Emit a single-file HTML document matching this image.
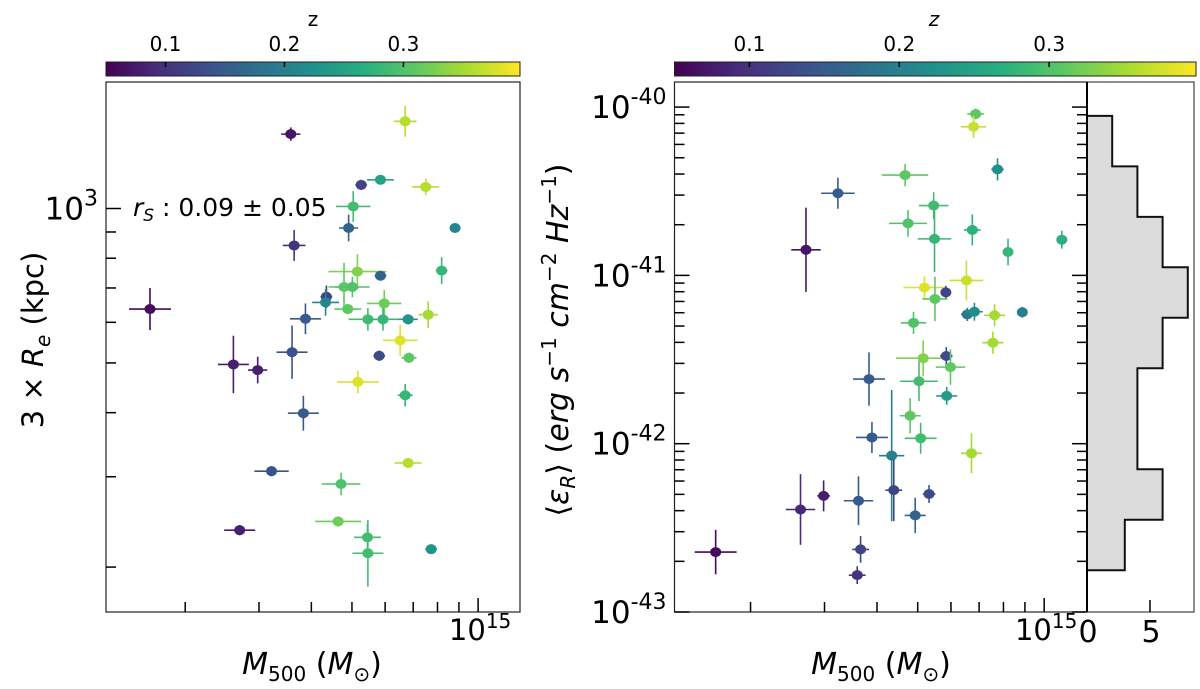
<!DOCTYPE html>
<html><head><meta charset="utf-8"><style>
html,body{margin:0;padding:0;background:#fff;}
svg{display:block;font-family:"DejaVu Sans","Liberation Sans",sans-serif;}
</style></head><body>
<svg id="fig" width="1200" height="689" viewBox="0 0 1200 689" xmlns="http://www.w3.org/2000/svg">
<defs>
<linearGradient id="vir" x1="0" x2="1" y1="0" y2="0">
<stop offset="0" stop-color="#440154"/><stop offset="0.125" stop-color="#472d7b"/><stop offset="0.25" stop-color="#3b528b"/><stop offset="0.375" stop-color="#2c728e"/><stop offset="0.5" stop-color="#21918c"/><stop offset="0.625" stop-color="#28ae80"/><stop offset="0.75" stop-color="#5ec962"/><stop offset="0.875" stop-color="#addc30"/><stop offset="1" stop-color="#fde725"/>
</linearGradient>
</defs>
<g id="left"></g>
<g id="right"></g>
</svg>
<script>
// ---- shared colour scale
const zMin = 0.05, zMax = 0.398;
const cbTicks = [0.1, 0.2, 0.3];
const cbTickLabels = ["0.1", "0.2", "0.3"];

// ---- left panel data (log10 M500, log10 3Re [kpc], errors in dex, redshift)
const leftLogM = [14.553,14.826,14.721,14.767,14.875,14.702,14.691,14.945,14.561,14.913,14.712,14.767,14.680,14.700,14.638,14.636,14.217,14.689,14.776,14.588,14.737,14.773,14.833,14.881,14.814,14.556,14.764,14.835,14.416,14.474,14.713,14.826,14.583,14.833,14.507,14.673,14.666,14.431,14.736,14.888,14.737];
const leftLogR = [3.145,3.170,3.046,3.056,3.042,3.004,2.962,2.962,2.928,2.879,2.877,2.869,2.847,2.847,2.828,2.817,2.804,2.804,2.815,2.785,2.784,2.784,2.784,2.793,2.743,2.720,2.713,2.709,2.696,2.685,2.662,2.636,2.601,2.504,2.488,2.463,2.390,2.373,2.359,2.336,2.328];
const leftZ = [0.07,0.36,0.12,0.25,0.36,0.29,0.16,0.21,0.10,0.28,0.33,0.16,0.31,0.30,0.12,0.21,0.06,0.31,0.32,0.15,0.29,0.28,0.23,0.35,0.38,0.14,0.13,0.31,0.08,0.08,0.38,0.28,0.15,0.36,0.14,0.30,0.32,0.08,0.29,0.23,0.29];
const leftErrM = [0.023,0.027,0.014,0.032,0.032,0.041,0.023,0.010,0.027,0.014,0.069,0.014,0.037,0.041,0.014,0.032,0.050,0.032,0.041,0.037,0.046,0.037,0.023,0.023,0.041,0.037,0.014,0.018,0.037,0.023,0.050,0.018,0.037,0.032,0.041,0.046,0.055,0.037,0.032,0.014,0.037];
const leftErrR = [0.013,0.030,0.010,0.006,0.016,0.030,0.026,0.006,0.030,0.026,0.034,0.006,0.047,0.020,0.022,0.026,0.041,0.010,0.026,0.030,0.022,0.022,0.010,0.026,0.030,0.052,0.010,0.010,0.056,0.026,0.022,0.022,0.034,0.010,0.010,0.022,0.010,0.010,0.026,0.009,0.065];

// ---- right panel data (log10 M500, log10 <eps_R>, errors in dex, redshift)
const rightLogM = [14.837,14.832,14.889,14.669,14.509,14.737,14.676,14.829,14.739,15.042,14.914,14.433,14.815,14.715,14.766,14.740,14.817,14.834,14.948,14.882,14.689,14.878,14.712,14.767,14.777,14.702,14.583,14.768,14.681,14.706,14.590,14.827,14.637,14.642,14.726,14.475,14.420,14.558,14.693,14.563,14.218,14.555];
const rightLogE = [-40.041,-40.117,-40.370,-40.404,-40.512,-40.585,-40.691,-40.730,-40.783,-40.788,-40.861,-40.848,-41.030,-41.072,-41.101,-41.140,-41.232,-41.216,-41.219,-41.237,-41.282,-41.400,-41.492,-41.479,-41.545,-41.629,-41.616,-41.716,-41.834,-41.968,-41.963,-42.057,-42.071,-42.276,-42.299,-42.310,-42.391,-42.339,-42.426,-42.628,-42.644,-42.781];
const rightZ = [0.31,0.37,0.22,0.31,0.15,0.29,0.30,0.27,0.28,0.27,0.28,0.07,0.37,0.38,0.12,0.31,0.19,0.22,0.20,0.35,0.30,0.35,0.33,0.13,0.31,0.29,0.15,0.24,0.31,0.29,0.15,0.35,0.20,0.12,0.13,0.08,0.09,0.15,0.16,0.12,0.06,0.10];
const rightErrM = [0.020,0.030,0.015,0.055,0.040,0.035,0.045,0.020,0.040,0.012,0.012,0.035,0.040,0.050,0.012,0.030,0.015,0.020,0.012,0.025,0.030,0.025,0.065,0.015,0.035,0.045,0.038,0.025,0.025,0.038,0.038,0.025,0.030,0.020,0.015,0.015,0.035,0.035,0.025,0.020,0.050,0.020];
const rightErrE = [0.032,0.066,0.066,0.066,0.092,0.079,0.079,0.092,0.197,0.053,0.079,0.250,0.118,0.066,0.039,0.132,0.039,0.053,0.032,0.066,0.066,0.066,0.105,0.053,0.105,0.118,0.158,0.053,0.105,0.092,0.092,0.118,0.390,0.184,0.053,0.092,0.210,0.145,0.105,0.079,0.132,0.053];

// ---- histogram of log eps_R
const histEdgeTop = -40.052;
const histBinWidth = 0.3;
const histCounts = [2,4,6,8,6,4,4,6,3];

const NS = "http://www.w3.org/2000/svg";
function mk(parent, tag, attrs, text){
  const e = document.createElementNS(NS, tag);
  for (const k in attrs) e.setAttribute(k, attrs[k]);
  if (text !== undefined) e.textContent = text;
  parent.appendChild(e);
  return e;
}
const stops = [[0,68,1,84],[0.125,71,45,123],[0.25,59,82,139],[0.375,44,114,142],[0.5,33,145,140],[0.625,40,174,128],[0.75,94,201,98],[0.875,173,220,48],[1,253,231,37]];
function viridis(z){
  let t = Math.max(0, Math.min(1, (z - zMin) / (zMax - zMin)));
  for (let i = 1; i < stops.length; i++){
    if (t <= stops[i][0]){
      const a = stops[i-1], b = stops[i], f = (t - a[0]) / (b[0] - a[0]);
      return `rgb(${Math.round(a[1]+f*(b[1]-a[1]))},${Math.round(a[2]+f*(b[2]-a[2]))},${Math.round(a[3]+f*(b[3]-a[3]))})`;
    }
  }
  return "#fde725";
}

function panel(g, o){
  const {x0, x1, y0, y1, xmin, xmax, ymin, ymax} = o;
  const sx = v => x0 + (v - xmin) / (xmax - xmin) * (x1 - x0);
  const sy = v => y1 - (v - ymin) / (ymax - ymin) * (y1 - y0);
  const cb = mk(g, "g", {});
  
  
  mk(cb, "rect", {x: x0, y: 62, width: o.cbx1 - x0, height: 14, fill: "url(#vir)", stroke: "#222", "stroke-width": 1});
  const cs = z => x0 + (z - zMin) / (zMax - zMin) * (o.cbx1 - x0);
  cbTicks.forEach((t, i) => {
    mk(cb, "line", {x1: cs(t), x2: cs(t), y1: 62, y2: 67, stroke: "#000", "stroke-width": 1.5});
    const tl = mk(cb, "text", {x: cs(t), y: 51, "text-anchor": "middle", "font-size": 20, fill: "#000"}, cbTickLabels[i]);
    
    
  });
  const zt = mk(cb, "text", {x: o.zx, y: 26, "text-anchor": "middle", "font-size": 20, "font-style": o.zItalic ? "italic" : "normal"}, "z");
  
  

  const pts = mk(g, "g", {});
  
  
  o.xs.forEach((xv, i) => {
    const c = viridis(o.zs[i]);
    const px = sx(xv), py = sy(o.ys[i]);
    const pg = mk(pts, "g", {});
    
    
    mk(pg, "line", {x1: sx(xv - o.ex[i]), x2: sx(xv + o.ex[i]), y1: py, y2: py, stroke: c, "stroke-width": 1.6});
    mk(pg, "line", {x1: px, x2: px, y1: sy(o.ys[i] - o.ey[i]), y2: sy(o.ys[i] + o.ey[i]), stroke: c, "stroke-width": 1.6});
    mk(pg, "ellipse", {cx: px, cy: py, rx: 5.5, ry: 5, fill: c});
  });

  const fr = mk(g, "rect", {x: x0, y: y0, width: x1 - x0, height: y1 - y0, fill: "none", stroke: "#222", "stroke-width": 1.2});
  
  

  const xt = mk(g, "g", {});
  
  
  for (let m = 2; m <= 10; m++){
    const v = 14 + Math.log10(m);
    if (v < xmin || v > xmax) continue;
    const X = sx(v), len = m === 10 ? 14 : 10;
    mk(xt, "line", {x1: X, x2: X, y1: y1, y2: y1 - len, stroke: "#000", "stroke-width": 1.5});
  }
  const xl = mk(g, "text", {x: sx(15) + 2, y: 640, "text-anchor": "middle", "font-size": 29}, "");
  
  
  mk(xl, "tspan", {}, "10");
  mk(xl, "tspan", {dy: -12, "font-size": 20}, "15");

  const yt = mk(g, "g", {});
  
  
  for (let d = Math.floor(ymin); d <= Math.ceil(ymax); d++){
    for (let m = 1; m <= 9; m++){
      const v = d + Math.log10(m);
      if (v < ymin || v > ymax) continue;
      const Y = sy(v), len = m === 1 ? 15 : 10;
      mk(yt, "line", {x1: x0, x2: x0 + len, y1: Y, y2: Y, stroke: "#000", "stroke-width": 1.5});
      if (o.rightTicks) mk(yt, "line", {x1: x1, x2: x1 - len, y1: Y, y2: Y, stroke: "#000", "stroke-width": 1.5});
      if (m === 1){
        const tl = mk(g, "text", {x: x0 - 8, y: Y + 11, "text-anchor": "end", "font-size": 31}, "");
        
        
        mk(tl, "tspan", {}, "10");
        mk(tl, "tspan", {dy: -14, "font-size": 22}, String(d));
      }
    }
  }
  return {sx, sy};
}

const L = document.getElementById("left");
panel(L, {x0: 106, x1: 520, y0: 82, y1: 612, xmin: 14.112, xmax: 15.1, ymin: 2.2135, ymax: 3.2466,
  cbx1: 520, zx: 313, zItalic: false, xs: leftLogM, ys: leftLogR, zs: leftZ, ex: leftErrM, ey: leftErrR, rightTicks: false});
let t = mk(L, "text", {x: 133, y: 216, "font-size": 25}, "");


mk(t, "tspan", {"font-style": "italic"}, "r");
mk(t, "tspan", {dy: 5, "font-size": 17, "font-style": "italic"}, "S");
mk(t, "tspan", {dy: -5}, " : 0.09 ± 0.05");
t = mk(L, "text", {x: 312, y: 674, "text-anchor": "middle", "font-size": 30}, "");


mk(t, "tspan", {"font-style": "italic"}, "M");
mk(t, "tspan", {dy: 7, "font-size": 20}, "500");
mk(t, "tspan", {dy: -7}, " (");
mk(t, "tspan", {"font-style": "italic"}, "M");
mk(t, "tspan", {dy: 7, "font-size": 20}, "⊙");
mk(t, "tspan", {dy: -7}, ")");
t = mk(L, "text", {x: 0, y: 0, "text-anchor": "middle", "font-size": 29, transform: "translate(43,340) rotate(-90)"}, "");


mk(t, "tspan", {}, "3 × ");
mk(t, "tspan", {"font-style": "italic"}, "R");
mk(t, "tspan", {dy: 7, "font-size": 20, "font-style": "italic"}, "e");
mk(t, "tspan", {dy: -7}, " (kpc)");

const R = document.getElementById("right");
panel(R, {x0: 674.5, x1: 1087, y0: 82, y1: 612, xmin: 14.12, xmax: 15.102, ymin: -43.0, ymax: -39.851,
  cbx1: 1196, zx: 934, zItalic: true, xs: rightLogM, ys: rightLogE, zs: rightZ, ex: rightErrM, ey: rightErrE, rightTicks: true});
const H = mk(R, "g", {});


const hx0 = 1087, hx1 = 1194, hUnit = 12.6;
const hsy = v => 612 - (v - (-43.0)) / ((-39.851) - (-43.0)) * 530;
const hsx = c => hx0 + c * hUnit;
let d = `M${hx0},${hsy(histEdgeTop)}`;
histCounts.forEach((c, i) => {
  const top = histEdgeTop - i * histBinWidth, bot = top - histBinWidth;
  d += ` L${hsx(c)},${hsy(top)} L${hsx(c)},${hsy(bot)}`;
});
d += ` L${hx0},${hsy(histEdgeTop - histCounts.length * histBinWidth)} Z`;
const hp = mk(H, "path", {d: d, fill: "#dcdcdc", stroke: "#111", "stroke-width": 2});


mk(H, "rect", {x: hx0, y: 82, width: hx1 - hx0, height: 530, fill: "none", stroke: "#444", "stroke-width": 1.2});
mk(H, "line", {x1: hx0, x2: hx0, y1: 82, y2: 612, stroke: "#000", "stroke-width": 2});
[0, 5].forEach(c => {
  mk(H, "line", {x1: hsx(c), x2: hsx(c), y1: 612, y2: 600, stroke: "#000", "stroke-width": 1.5});
  const tl = mk(H, "text", {x: hsx(c) + 1, y: 642, "text-anchor": "middle", "font-size": 30}, String(c));
  
  
});
t = mk(R, "text", {x: 881, y: 674, "text-anchor": "middle", "font-size": 30}, "");


mk(t, "tspan", {"font-style": "italic"}, "M");
mk(t, "tspan", {dy: 7, "font-size": 20}, "500");
mk(t, "tspan", {dy: -7}, " (");
mk(t, "tspan", {"font-style": "italic"}, "M");
mk(t, "tspan", {dy: 7, "font-size": 20}, "⊙");
mk(t, "tspan", {dy: -7}, ")");
t = mk(R, "text", {x: 0, y: 0, "text-anchor": "middle", "font-size": 30, transform: "translate(568,340) rotate(-90)"}, "");


mk(t, "tspan", {}, "⟨");
mk(t, "tspan", {"font-style": "italic"}, "ε");
mk(t, "tspan", {dy: 7, "font-size": 20, "font-style": "italic"}, "R");
mk(t, "tspan", {dy: -7}, "⟩ (");
mk(t, "tspan", {"font-style": "italic"}, "erg s");
mk(t, "tspan", {dy: -12, "font-size": 20}, "−1");
mk(t, "tspan", {dy: 12, "font-style": "italic"}, " cm");
mk(t, "tspan", {dy: -12, "font-size": 20}, "−2");
mk(t, "tspan", {dy: 12, "font-style": "italic"}, " Hz");
mk(t, "tspan", {dy: -12, "font-size": 20}, "−1");
mk(t, "tspan", {dy: 12}, ")");
</script>
</body></html>
